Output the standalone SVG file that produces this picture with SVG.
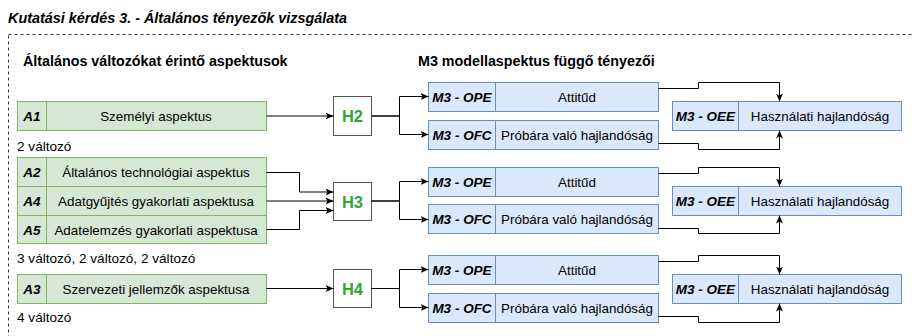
<svg xmlns="http://www.w3.org/2000/svg" width="912" height="336" viewBox="0 0 912 336">
<style>
text{font-family:"Liberation Sans",Arial,sans-serif;fill:#000}
.title{font-size:14.4px;font-weight:bold;font-style:italic}
.hdr{font-size:14.3px;font-weight:bold}
.lbl{font-size:13.4px}
.sub{font-size:13.6px}
.code{font-size:13.5px;font-weight:bold;font-style:italic}
.h{font-size:16.5px;font-weight:bold;fill:#33a333}
.g{fill:#d5e8d4;stroke:#82b366;stroke-width:1}
.b{fill:#dae8fc;stroke:#6c8ebf;stroke-width:1}
.hb{fill:#fff;stroke:#555;stroke-width:1}
.e{fill:none;stroke:#000;stroke-width:1;marker-end:url(#arr)}
.c{text-anchor:middle}
</style>
<defs>
<marker id="arr" markerUnits="userSpaceOnUse" markerWidth="9" markerHeight="8" refX="8" refY="4" orient="auto">
<path d="M0,0.5 L8,4 L0,7.5 L2,4 Z" fill="#000"/>
</marker>
</defs>
<text class="title" x="8" y="23">Kutatási kérdés 3. - Általános tényezők vizsgálata</text>
<rect x="8.5" y="34.5" width="940" height="340" fill="none" stroke="#333" stroke-dasharray="3 3"/>
<text class="hdr" x="23" y="66">Általános változókat érintő aspektusok</text>
<text class="hdr" x="418" y="66">M3 modellaspektus függő tényezői</text>

<g id="A1"><rect class="g" x="17.5" y="101.5" width="249" height="29"/><line x1="46.5" y1="101.5" x2="46.5" y2="130.5" stroke="#82b366"/><text class="code c" x="32" y="121">A1</text><text class="lbl c" x="156" y="121">Személyi aspektus</text></g>
<text class="sub" x="17" y="151">2 változó</text>
<g id="A2"><rect class="g" x="17.5" y="157.5" width="249" height="29"/><line x1="46.5" y1="157.5" x2="46.5" y2="186.5" stroke="#82b366"/><text class="code c" x="32" y="177">A2</text><text class="lbl c" x="156" y="177">Általános technológiai aspektus</text></g>
<g id="A4"><rect class="g" x="17.5" y="186.5" width="249" height="29"/><line x1="46.5" y1="186.5" x2="46.5" y2="215.5" stroke="#82b366"/><text class="code c" x="32" y="206">A4</text><text class="lbl c" x="156" y="206">Adatgyűjtés gyakorlati aspektusa</text></g>
<g id="A5"><rect class="g" x="17.5" y="215.5" width="249" height="28"/><line x1="46.5" y1="215.5" x2="46.5" y2="243.5" stroke="#82b366"/><text class="code c" x="32" y="234.5">A5</text><text class="lbl c" x="156" y="234.5">Adatelemzés gyakorlati aspektusa</text></g>
<text class="sub" x="17" y="263">3 változó, 2 változó, 2 változó</text>
<g id="A3"><rect class="g" x="17.5" y="274.5" width="249" height="29"/><line x1="46.5" y1="274.5" x2="46.5" y2="303.5" stroke="#82b366"/><text class="code c" x="32" y="294">A3</text><text class="lbl c" x="156" y="294">Szervezeti jellemzők aspektusa</text></g>
<text class="sub" x="17" y="322">4 változó</text>

<g id="H2"><rect class="hb" x="333.5" y="96.5" width="38" height="39"/><text class="h c" x="352.5" y="122">H2</text></g>
<g id="H3"><rect class="hb" x="333.5" y="182.5" width="38" height="38"/><text class="h c" x="352.5" y="207.5">H3</text></g>
<g id="H4"><rect class="hb" x="333.5" y="269.5" width="38" height="38"/><text class="h c" x="352.5" y="294.5">H4</text></g>

<g id="OPE1"><rect class="b" x="428.5" y="82.5" width="230" height="29"/><line x1="495.5" y1="82.5" x2="495.5" y2="111.5" stroke="#6c8ebf"/><text class="code c" x="462" y="102">M3 - OPE</text><text class="lbl c" x="577" y="102">Attitűd</text></g>
<g id="OFC1"><rect class="b" x="428.5" y="120.5" width="230" height="29"/><line x1="495.5" y1="120.5" x2="495.5" y2="149.5" stroke="#6c8ebf"/><text class="code c" x="462" y="140">M3 - OFC</text><text class="lbl c" x="577" y="140">Próbára való hajlandóság</text></g>
<g id="OEE1"><rect class="b" x="672.5" y="101.5" width="229" height="29"/><line x1="738.5" y1="101.5" x2="738.5" y2="130.5" stroke="#6c8ebf"/><text class="code c" x="705.5" y="121">M3 - OEE</text><text class="lbl c" x="820" y="121">Használati hajlandóság</text></g>

<g id="OPE2"><rect class="b" x="428.5" y="167.5" width="230" height="29"/><line x1="495.5" y1="167.5" x2="495.5" y2="196.5" stroke="#6c8ebf"/><text class="code c" x="462" y="187">M3 - OPE</text><text class="lbl c" x="577" y="187">Attitűd</text></g>
<g id="OFC2"><rect class="b" x="428.5" y="204.5" width="230" height="29"/><line x1="495.5" y1="204.5" x2="495.5" y2="233.5" stroke="#6c8ebf"/><text class="code c" x="462" y="224">M3 - OFC</text><text class="lbl c" x="577" y="224">Próbára való hajlandóság</text></g>
<g id="OEE2"><rect class="b" x="672.5" y="186.5" width="229" height="29"/><line x1="738.5" y1="186.5" x2="738.5" y2="215.5" stroke="#6c8ebf"/><text class="code c" x="705.5" y="206">M3 - OEE</text><text class="lbl c" x="820" y="206">Használati hajlandóság</text></g>

<g id="OPE3"><rect class="b" x="428.5" y="255.5" width="230" height="29"/><line x1="495.5" y1="255.5" x2="495.5" y2="284.5" stroke="#6c8ebf"/><text class="code c" x="462" y="275">M3 - OPE</text><text class="lbl c" x="577" y="275">Attitűd</text></g>
<g id="OFC3"><rect class="b" x="428.5" y="293.5" width="230" height="29"/><line x1="495.5" y1="293.5" x2="495.5" y2="322.5" stroke="#6c8ebf"/><text class="code c" x="462" y="313">M3 - OFC</text><text class="lbl c" x="577" y="313">Próbára való hajlandóság</text></g>
<g id="OEE3"><rect class="b" x="672.5" y="274.5" width="229" height="29"/><line x1="738.5" y1="274.5" x2="738.5" y2="303.5" stroke="#6c8ebf"/><text class="code c" x="705.5" y="294">M3 - OEE</text><text class="lbl c" x="820" y="294">Használati hajlandóság</text></g>

<g id="connectors">
<path class="e" d="M266.5,116 H333.5"/>
<path class="e" d="M266.5,172.5 H299.5 V192 H333.5"/>
<path class="e" d="M266.5,201 H333.5"/>
<path class="e" d="M266.5,229.5 H299.5 V210.5 H333.5"/>
<path class="e" d="M266.5,288.5 H333.5"/>

<path class="e" d="M371.5,116 H399.5 V96.5 H428.5"/>
<path class="e" d="M371.5,116 H399.5 V134.5 H428.5"/>
<path class="e" d="M371.5,201 H399.5 V181.5 H428.5"/>
<path class="e" d="M371.5,201 H399.5 V219.5 H428.5"/>
<path class="e" d="M371.5,288.5 H399.5 V269.5 H428.5"/>
<path class="e" d="M371.5,288.5 H399.5 V307.5 H428.5"/>

<path class="e" d="M658.5,88.5 H698.5 V82.5 H779.5 V101.5"/>
<path class="e" d="M658.5,143.5 H698.5 V149.5 H779.5 V130.5"/>
<path class="e" d="M658.5,173.5 H698.5 V167.5 H779.5 V186.5"/>
<path class="e" d="M658.5,228.5 H698.5 V233.5 H779.5 V215.5"/>
<path class="e" d="M658.5,261.5 H698.5 V255.5 H779.5 V274.5"/>
<path class="e" d="M658.5,316.5 H698.5 V322.5 H779.5 V303.5"/>
</g>
</svg>
